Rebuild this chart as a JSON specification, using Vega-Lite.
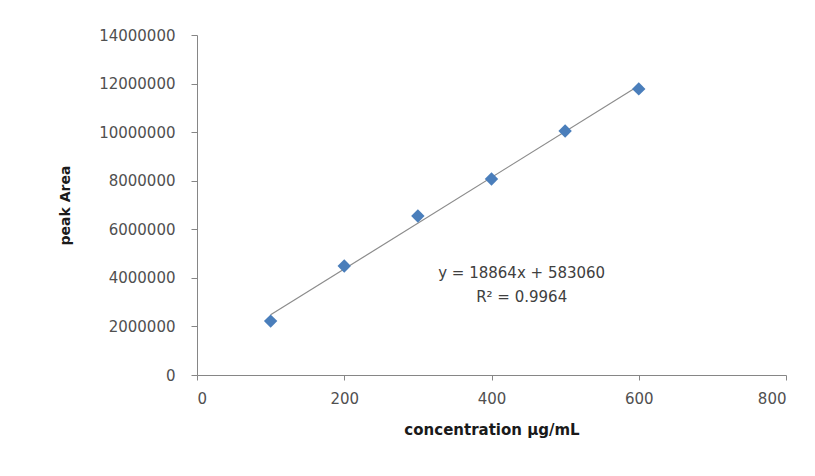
{
  "$schema": "https://vega.github.io/schema/vega-lite/v6.json",
  "width": 589,
  "height": 340,
  "autosize": {"type": "none"},
  "padding": {"left": 197, "top": 35, "right": 29, "bottom": 101},
  "background": "white",
  "config": {"view": {"stroke": null}, "font": "DejaVu Sans"},
  "datasets": {
    "points": [
      {"concentration": 100, "area": 2220000},
      {"concentration": 200, "area": 4490000},
      {"concentration": 300, "area": 6550000},
      {"concentration": 400, "area": 8070000},
      {"concentration": 500, "area": 10050000},
      {"concentration": 600, "area": 11780000}
    ],
    "note": [
      {"concentration": 441, "area": 4180000, "label": "y = 18864x + 583060\nR² = 0.9964"}
    ]
  },
  "encoding": {
    "x": {
      "field": "concentration",
      "type": "quantitative",
      "scale": {"domain": [0, 800], "nice": false, "zero": true},
      "axis": {
        "title": "concentration µg/mL",
        "values": [0, 200, 400, 600, 800],
        "grid": false,
        "domainColor": "#868686",
        "tickColor": "#868686",
        "tickSize": 5,
        "labelFontSize": 15,
        "labelColor": "#505050",
        "labelPadding": 11,
        "titleFontSize": 15,
        "titleFontWeight": "bold",
        "titleColor": "#1a1a1a",
        "titlePadding": 16
      }
    },
    "y": {
      "field": "area",
      "type": "quantitative",
      "scale": {"domain": [0, 14000000], "nice": false},
      "axis": {
        "title": "peak Area",
        "values": [0, 2000000, 4000000, 6000000, 8000000, 10000000, 12000000, 14000000],
        "format": "d",
        "grid": false,
        "domainColor": "#868686",
        "tickColor": "#868686",
        "tickSize": 6,
        "labelFontSize": 15,
        "labelColor": "#505050",
        "labelPadding": 16,
        "titleFontSize": 14,
        "titleFontWeight": "bold",
        "titleColor": "#1a1a1a",
        "titlePadding": 26
      }
    }
  },
  "layer": [
    {
      "data": {"name": "points"},
      "transform": [{"regression": "area", "on": "concentration"}],
      "mark": {"type": "line", "color": "#8c8c8c", "strokeWidth": 1.2}
    },
    {
      "data": {"name": "points"},
      "mark": {"type": "point", "shape": "diamond", "filled": true, "size": 180, "color": "#4a7ebb", "opacity": 1}
    },
    {
      "data": {"name": "note"},
      "mark": {"type": "text", "lineBreak": "\n", "fontSize": 15, "color": "#404040", "align": "center", "baseline": "middle", "lineHeight": 24},
      "encoding": {"text": {"field": "label"}}
    }
  ]
}
